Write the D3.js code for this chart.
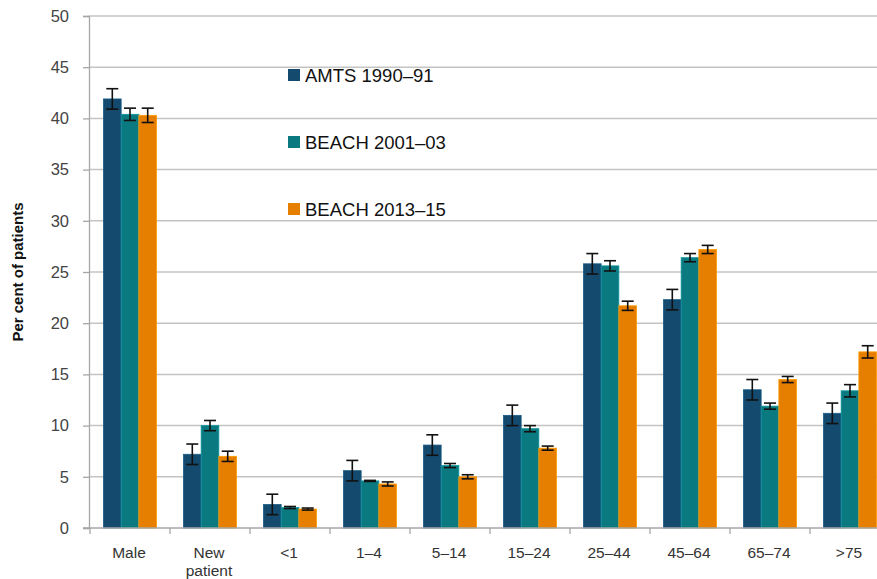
<!DOCTYPE html>
<html>
  <head>
    <meta charset='utf-8'>
    <script src='https://d3js.org/d3.v7.min.js'></script>
    <style>
      body { margin: 0; background: #fff; }
      svg text { font-family: 'Liberation Sans', Arial, sans-serif; }
    </style>
  </head>
  <body>
    <div id='chart'></div>
    <script>
        // values
        const categories = ['Male', 'New patient', '<1', '1–4', '5–14', '15–24', '25–44', '45–64', '65–74', '>75'];
        const series = ['AMTS 1990–91', 'BEACH 2001–03', 'BEACH 2013–15'];
        const colors = ['#144a6e', '#0b7a80', '#e67e00'];

        const amts    = [41.9, 7.2, 2.3, 5.6, 8.1, 11.0, 25.8, 22.3, 13.5, 11.2];
        const beach01 = [40.4, 10.0, 2.0, 4.6, 6.1, 9.7, 25.6, 26.4, 11.9, 13.4];
        const beach13 = [40.3, 7.0, 1.85, 4.3, 5.0, 7.8, 21.7, 27.2, 14.5, 17.2];

        const amtsErr    = [1.0, 1.0, 1.0, 1.0, 1.0, 1.0, 1.0, 1.0, 1.0, 1.0];
        const beach01Err = [0.6, 0.5, 0.1, 0.05, 0.2, 0.3, 0.5, 0.4, 0.3, 0.6];
        const beach13Err = [0.7, 0.5, 0.1, 0.2, 0.2, 0.2, 0.45, 0.4, 0.3, 0.6];

        const yTicks = [0, 5, 10, 15, 20, 25, 30, 35, 40, 45, 50];

        const values = [amts, beach01, beach13];
        const errors = [amtsErr, beach01Err, beach13Err];

        const width = 877, height = 579;
        const margin = { left: 90, right: -13, top: 16, bottom: 51 };

        const svg = d3.select('#chart').append('svg')
            .attr('width', width)
            .attr('height', height);

        const x0 = d3.scaleBand()
            .domain(categories)
            .range([margin.left, width - margin.right]);
        const x1 = d3.scaleBand()
            .domain(series)
            .range([0, x0.bandwidth()])
            .paddingOuter(0.76);
        const y = d3.scaleLinear()
            .domain([0, 50])
            .range([height - margin.bottom, margin.top]);

        // gridlines
        svg.append('g')
            .selectAll('line')
            .data(yTicks.filter(d => d > 0))
            .join('line')
            .attr('x1', margin.left - 1)
            .attr('x2', width - margin.right)
            .attr('y1', d => y(d))
            .attr('y2', d => y(d))
            .attr('stroke', '#c4c4c4')
            .attr('stroke-width', 1.5);

        // y axis
        const yAxis = svg.append('g')
            .attr('transform', `translate(${margin.left - 1},0)`)
            .call(d3.axisLeft(y).tickValues(yTicks).tickSize(6).tickPadding(14));
        yAxis.select('.domain').attr('stroke', '#a6a6a6').attr('stroke-width', 1.3);
        yAxis.selectAll('.tick line').attr('stroke', '#a6a6a6').attr('stroke-width', 1.3);
        yAxis.selectAll('.tick text')
            .attr('font-size', 16.5)
            .attr('fill', '#444');

        svg.append('text')
            .attr('transform', `translate(23,${(y(0) + y(50)) / 2}) rotate(-90)`)
            .attr('text-anchor', 'middle')
            .attr('font-size', 15)
            .attr('font-weight', 'bold')
            .attr('fill', '#111')
            .text('Per cent of patients');

        // bars
        const groups = svg.append('g')
            .selectAll('g')
            .data(categories)
            .join('g')
            .attr('transform', d => `translate(${x0(d)},0)`);

        groups.each(function (cat, ci) {
            const g = d3.select(this);
            series.forEach((s, si) => {
                const v = values[si][ci];
                const e = errors[si][ci];
                const cx = x1(s) + x1.bandwidth() / 2;
                g.append('rect')
                    .attr('x', x1(s))
                    .attr('y', y(v))
                    .attr('width', x1.bandwidth())
                    .attr('height', y(0) - y(v))
                    .attr('fill', colors[si])
                    .attr('stroke', d3.color(colors[si]).brighter(0.6))
                    .attr('stroke-width', 0.8);
                const eb = g.append('g')
                    .attr('stroke', '#111')
                    .attr('stroke-width', 1.6);
                eb.append('line')
                    .attr('x1', cx).attr('x2', cx)
                    .attr('y1', y(v + e)).attr('y2', y(v - e));
                [v + e, v - e].forEach(t => {
                    eb.append('line')
                        .attr('x1', cx - 6).attr('x2', cx + 6)
                        .attr('y1', y(t)).attr('y2', y(t));
                });
            });
        });

        // x axis
        const xAxis = svg.append('g')
            .attr('transform', `translate(0,${y(0)})`);
        xAxis.append('line')
            .attr('x1', margin.left - 7)
            .attr('x2', width)
            .attr('stroke', '#a6a6a6')
            .attr('stroke-width', 1.5);
        xAxis.selectAll('.tk')
            .data(categories)
            .join('line')
            .attr('class', 'tk')
            .attr('x1', d => x0(d))
            .attr('x2', d => x0(d))
            .attr('y1', 0)
            .attr('y2', 6)
            .attr('stroke', '#a6a6a6')
            .attr('stroke-width', 1.3);
        xAxis.selectAll('.lbl')
            .data(categories)
            .join('text')
            .attr('class', 'lbl')
            .attr('text-anchor', 'middle')
            .attr('font-size', 15.5)
            .attr('fill', '#333')
            .attr('transform', d => `translate(${x0(d) + x0.bandwidth() / 2 - 1},30)`)
            .each(function (d) {
                const words = d === 'New patient' ? ['New', 'patient'] : [d];
                d3.select(this).selectAll('tspan')
                    .data(words)
                    .join('tspan')
                    .attr('x', 0)
                    .attr('dy', (w, i) => i === 0 ? 0 : 18)
                    .text(w => w);
            });

        // legend
        const legend = svg.append('g')
            .attr('transform', 'translate(288,69)');
        series.forEach((s, i) => {
            const row = legend.append('g')
                .attr('transform', `translate(0,${i * 67})`);
            row.append('rect')
                .attr('width', 12)
                .attr('height', 12)
                .attr('fill', colors[i]);
            row.append('text')
                .attr('x', 17)
                .attr('y', 13)
                .attr('font-family', 'Lato, sans-serif')
                .attr('font-size', 18.5)
                .attr('fill', '#111')
                .text(s);
        });
    </script>
  </body>
</html>
